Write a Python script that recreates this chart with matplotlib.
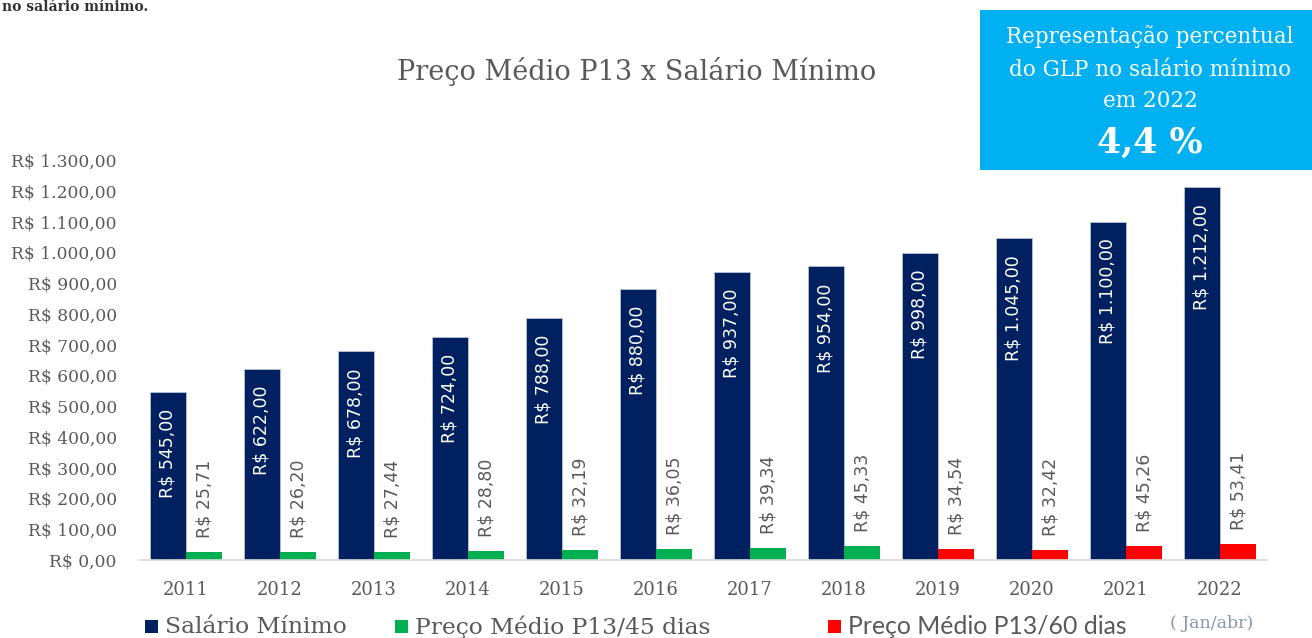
import matplotlib
matplotlib.use("Agg")
import matplotlib.pyplot as plt
from matplotlib.patches import Rectangle
import numpy as np

years = ["2011", "2012", "2013", "2014", "2015", "2016", "2017", "2018",
         "2019", "2020", "2021", "2022"]
salario = [545.00, 622.00, 678.00, 724.00, 788.00, 880.00, 937.00, 954.00,
           998.00, 1045.00, 1100.00, 1212.00]
preco_45_years = ["2011", "2012", "2013", "2014", "2015", "2016", "2017", "2018"]
preco_45 = [25.71, 26.20, 27.44, 28.80, 32.19, 36.05, 39.34, 45.33]
preco_60_years = ["2019", "2020", "2021", "2022"]
preco_60 = [34.54, 32.42, 45.26, 53.41]
yticks = list(range(0, 1301, 100))

NAVY = "#002060"
GREEN = "#00B050"
RED = "#FF0000"
GRAY = "#595959"
SERIF = "DejaVu Serif"


def brl(v):
    s = f"{v:,.2f}"
    s = s.replace(",", "X").replace(".", ",").replace("X", ".")
    return "R$ " + s


W, H = 1312, 638
fig = plt.figure(figsize=(W / 100, H / 100), dpi=100)
ax = fig.add_axes([139 / W, (H - 560) / H, (1267 - 139) / W, 400 / H])

x = np.arange(len(years))
bw = 0.385
pos = {y: i for i, y in enumerate(years)}

ax.bar(x - bw / 2, salario, bw, color=NAVY, edgecolor="#b8c2d6", linewidth=0.6, zorder=2)
x45 = np.array([pos[y] for y in preco_45_years])
x60 = np.array([pos[y] for y in preco_60_years])
ax.bar(x45 + bw / 2, preco_45, bw, color=GREEN, zorder=2)
ax.bar(x60 + bw / 2, preco_60, bw, color=RED, zorder=2)

ax.set_xlim(-0.5, len(years) - 0.5)
ax.set_ylim(0, 1300)
ax.set_yticks(yticks)
ax.set_yticklabels([brl(v) for v in yticks], fontfamily=SERIF, fontsize=12.3, color=GRAY)
ax.set_xticks(x)
ax.set_xticklabels(years, fontfamily=SERIF, fontsize=13, color=GRAY)
ax.tick_params(axis="y", length=0, pad=16)
ax.tick_params(axis="x", length=0, pad=15)
for s in ["top", "right", "left"]:
    ax.spines[s].set_visible(False)
ax.spines["bottom"].set_color("#d9d9d9")
ax.spines["bottom"].set_linewidth(1.2)

# data labels
for xi, v in zip(x, salario):
    ax.annotate(brl(v), (xi - bw / 2, v), xytext=(0, -12), textcoords="offset points",
                rotation=90, ha="center", va="top", color="white",
                fontfamily="DejaVu Sans", fontsize=12.5)
for xi, v in zip(x45, preco_45):
    ax.annotate(brl(v), (xi + bw / 2, v), xytext=(0, 10), textcoords="offset points",
                rotation=90, ha="center", va="bottom", color=GRAY,
                fontfamily="DejaVu Sans", fontsize=12.5)
for xi, v in zip(x60, preco_60):
    ax.annotate(brl(v), (xi + bw / 2, v), xytext=(0, 10), textcoords="offset points",
                rotation=90, ha="center", va="bottom", color=GRAY,
                fontfamily="DejaVu Sans", fontsize=12.5)

# title
fig.text(637 / W, 1 - 71 / H, "Preço Médio P13 x Salário Mínimo", ha="center", va="center",
         fontfamily=SERIF, fontsize=19.5, color=GRAY)

# text at top-left (partially visible in the source)
fig.text(2 / W, 1 - 11 / H, "no salário mínimo.", ha="left", va="baseline",
         fontfamily=SERIF, fontsize=10, fontweight="bold", color="#333333")

# blue box
fig.patches.append(Rectangle((980 / W, 1 - 170 / H), 340 / W, 160 / H,
                             transform=fig.transFigure, facecolor="#00B0F0",
                             edgecolor="none", zorder=0))
for yy, t in [(37, "Representação percentual"), (70, "do GLP no salário mínimo"),
              (101, "em 2022")]:
    fig.text(1150 / W, 1 - yy / H, t, ha="center", va="center", fontfamily=SERIF,
             fontsize=15.5, color="white")
fig.text(1150 / W, 1 - 143 / H, "4,4 %", ha="center", va="center", fontfamily=SERIF,
         fontsize=25, fontweight="bold", color="white")


# legend (manual)
def legend_item(xpix, color, label, family, size):
    fig.patches.append(Rectangle((xpix / W, 1 - 633 / H), 13 / W, 13 / H,
                                 transform=fig.transFigure, facecolor=color,
                                 edgecolor="none"))
    fig.text((xpix + 20) / W, 1 - 627 / H, label, ha="left", va="center",
             fontfamily=family, fontsize=size, color=GRAY)


legend_item(145, NAVY, "Salário Mínimo", SERIF, 16.8)
legend_item(395, GREEN, "Preço Médio P13/45 dias", SERIF, 16.8)
legend_item(828, RED, "Preço Médio P13/60 dias", "Lato", 17.8)
fig.text(1170 / W, 1 - 624 / H, "( Jan/abr)", ha="left", va="center",
         fontfamily=SERIF, fontsize=12.5, color="#8496B0")

fig.savefig("out.png", dpi=100)
